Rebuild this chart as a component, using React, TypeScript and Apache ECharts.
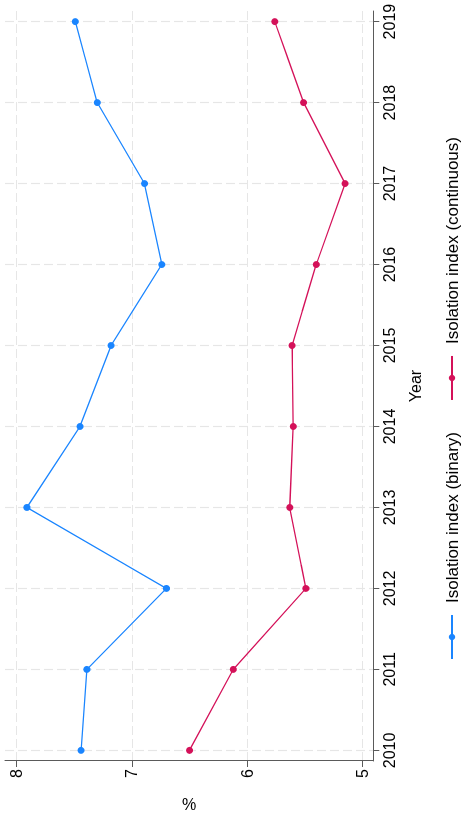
import React, { useEffect, useRef } from "react";
import * as echarts from "echarts";

const years = [2010, 2011, 2012, 2013, 2014, 2015, 2016, 2017, 2018, 2019];
const binaryIndex = [7.44, 7.39, 6.70, 7.91, 7.45, 7.18, 6.74, 6.89, 7.30, 7.49];
const continuousIndex = [6.50, 6.12, 5.49, 5.63, 5.60, 5.61, 5.40, 5.15, 5.51, 5.76];
const valueTicks = [5, 6, 7, 8];
const seriesNames = ["Isolation index (binary)", "Isolation index (continuous)"];
const seriesColors = ["#1a85ff", "#d41159"];

const FONT = "'Liberation Sans', Arial, Helvetica, sans-serif";
const AXIS_COLOR = "#5a5a5a";
const GRID_LINE = { color: "#e6e6e6", width: 1.2, type: [9, 4] as number[] };

export default function App() {
  const ref = useRef<HTMLDivElement>(null);

  useEffect(() => {
    if (!ref.current) return;
    const chart = echarts.init(ref.current, undefined, { renderer: "svg" });
    const yearPad = 0.131;
    const option = {
      animation: false,
      backgroundColor: "#ffffff",
      textStyle: { fontFamily: FONT },
      grid: { left: 57.7, right: 11, top: 5, bottom: 91.7, containLabel: false },
      legend: {
        data: seriesNames,
        left: 160,
        top: 442,
        padding: 0,
        itemWidth: 44,
        itemHeight: 8,
        itemGap: 31,
        textStyle: { fontSize: 17, color: "#000", fontFamily: FONT, padding: [0, 0, 0, 7], lineHeight: 20 },
      },
      xAxis: {
        type: "value",
        min: years[0] - yearPad,
        max: years[years.length - 1] + yearPad,
        name: "Year",
        nameLocation: "middle",
        nameGap: 34,
        nameTextStyle: { fontSize: 16, color: "#000", fontFamily: FONT },
        axisLine: { show: true, lineStyle: { color: AXIS_COLOR, width: 1 } },
        axisTick: { show: true, length: 6, customValues: years, lineStyle: { color: AXIS_COLOR } },
        axisLabel: {
          customValues: years,
          formatter: (v: number) => String(v),
          fontSize: 16,
          color: "#000",
          margin: 8,
          fontFamily: FONT,
        },
        splitLine: { show: true, lineStyle: GRID_LINE },
      },
      yAxis: {
        type: "value",
        min: 4.905,
        max: 8.1,
        name: "%",
        nameLocation: "middle",
        nameGap: 35,
        nameTextStyle: { fontSize: 16, color: "#000", fontFamily: FONT },
        axisLine: { show: true, lineStyle: { color: AXIS_COLOR, width: 1 } },
        axisTick: { show: true, length: 6, customValues: valueTicks, lineStyle: { color: AXIS_COLOR } },
        axisLabel: {
          customValues: valueTicks,
          formatter: (v: number) => String(v),
          fontSize: 16,
          color: "#000",
          margin: 8,
          fontFamily: FONT,
        },
        splitLine: { show: true, lineStyle: GRID_LINE },
      },
      series: [binaryIndex, continuousIndex].map((vals, i) => ({
        name: seriesNames[i],
        type: "line",
        data: years.map((y, j) => [y, vals[j]]),
        symbol: "circle",
        symbolSize: 7,
        color: seriesColors[i],
        lineStyle: { width: 1.3, color: seriesColors[i] },
        itemStyle: { color: seriesColors[i] },
      })),
    };
    chart.setOption(option as any);
    return () => chart.dispose();
  }, []);

  return (
    <div
      style={{
        position: "fixed",
        left: 0,
        top: 0,
        width: 820,
        height: 465,
        transformOrigin: "0 0",
        transform: "translate(0px, 820px) rotate(-90deg)",
        background: "#fff",
      }}
    >
      <div ref={ref} style={{ width: 820, height: 465 }} />
    </div>
  );
}
